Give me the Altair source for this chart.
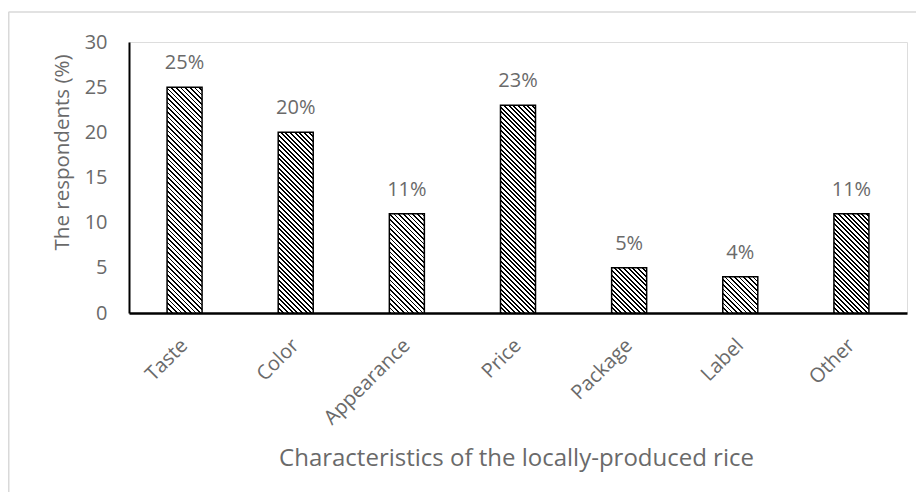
import math
import altair as alt
import pandas as pd

categories = ["Taste", "Color", "Appearance", "Price", "Package", "Label", "Other"]
values = [25, 20, 11, 23, 5, 4, 11]
y_ticks = [0, 5, 10, 15, 20, 25, 30]

W, H = 778, 271
PAD_L, PAD_T = 121, 34
GRAY = "#6a6a6a"
FONT = "Open Sans"

df = pd.DataFrame({"cat": categories, "value": values})
df["label"] = [f"{v}%" for v in values]

x_scale = alt.Scale(domain=categories, paddingInner=0.685, paddingOuter=0.3425)
y_scale = alt.Scale(domain=[0, 30], nice=False)

BAR_W = W / len(categories) * (1 - 0.685)


def hatch(v):
    """Diagonal hatch fill as a striped linear gradient (bbox units)."""
    w = BAR_W
    h = v / 30 * H
    r = h / w
    t = (1 + r) / (1 + r * r)
    L = (w + h) / math.sqrt(2)
    period = 3.3
    black = 1.3
    stops = []
    k = 0
    while k * period < L:
        a = k * period / L
        b = min((k * period + black) / L, 1)
        c = min((k + 1) * period / L, 1)
        stops += [
            alt.GradientStop(color="#000000", offset=a),
            alt.GradientStop(color="#000000", offset=b),
            alt.GradientStop(color="#ffffff", offset=b),
            alt.GradientStop(color="#ffffff", offset=c),
        ]
        k += 1
    return alt.LinearGradient(gradient="linear", stops=stops,
                              x1=0, y1=1, x2=t, y2=1 - t * r)


base = alt.Chart(df)

x_enc = alt.X("cat:N", sort=categories, scale=x_scale,
              axis=alt.Axis(title="Characteristics of the locally-produced rice",
                            labelAngle=-45, labelAlign="right", labelBaseline="middle",
                            labelPadding=29, ticks=False, tickSize=0,
                            domainColor="black", domainWidth=2.5,
                            labelColor=GRAY, labelFontSize=20, labelFont=FONT,
                            titleColor=GRAY, titleFontSize=24, titleFont=FONT,
                            titleFontWeight="normal",
                            titleX=387, titleY=145, titleAlign="center",
                            titleBaseline="middle", titleAnchor="middle"))
y_enc = alt.Y("value:Q", scale=y_scale,
              axis=alt.Axis(title="The respondents (%)", values=y_ticks,
                            grid=False, ticks=False, tickSize=0, labelPadding=22,
                            domainColor="black", domainWidth=2,
                            labelColor=GRAY, labelFontSize=20, labelFont=FONT,
                            titleColor=GRAY, titleFontSize=20.5, titleFont=FONT,
                            titleFontWeight="normal", titleAngle=-90,
                            titleX=-67, titleY=110, titleAlign="center",
                            titleBaseline="middle"))

layers = []
for i, (c, v) in enumerate(zip(categories, values)):
    bar = base.mark_bar(fill=hatch(v), stroke="black", strokeWidth=1.5).encode(
        x=x_enc if i == 0 else alt.X("cat:N", sort=categories, scale=x_scale),
        y=y_enc if i == 0 else alt.Y("value:Q", scale=y_scale),
    ).transform_filter(alt.datum.cat == c)
    layers.append(bar)

text = base.mark_text(color=GRAY, fontSize=20, font=FONT, baseline="middle", dy=-24).encode(
    x=alt.X("cat:N", sort=categories, scale=x_scale),
    y=alt.Y("value:Q", scale=y_scale),
    text="label:N",
)

border_data = alt.Data(values=[{"a": 1}])
top_border = alt.Chart(border_data).mark_rule(color="#d9d9d9", strokeWidth=1.5).encode(
    x=alt.value(-PAD_L + 0.5), x2=alt.value(W + 20), y=alt.value(-30))
left_border = alt.Chart(border_data).mark_rule(color="#d9d9d9", strokeWidth=1.5).encode(
    x=alt.value(-PAD_L + 0.75), y=alt.value(-30), y2=alt.value(H + 200))

chart = alt.layer(*layers, text, top_border, left_border).properties(
    width=W, height=H,
    autosize=alt.AutoSizeParams(type="none"),
    padding={"left": PAD_L, "top": PAD_T, "right": 908 - PAD_L - W, "bottom": 484 - PAD_T - H},
).configure_view(stroke=None).configure(background="white")

chart.save("out.html", embed_options={"renderer": "svg", "actions": False})
